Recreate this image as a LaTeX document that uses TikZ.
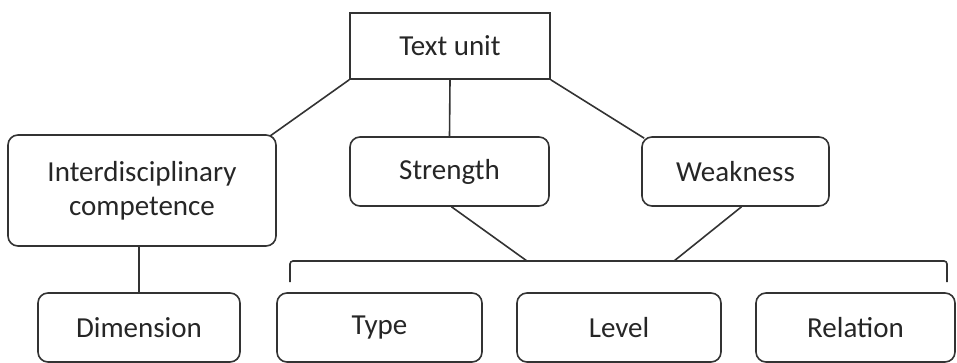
\documentclass[tikz,border=0pt]{standalone}
\usepackage{fontspec}
\setmainfont{Carlito}
\begin{document}
\begin{tikzpicture}[x=1pt,y=-1pt,
  box/.style={draw=black!80, line width=1.6pt, rounded corners=10pt, align=center,
    font=\fontsize{29}{34}\selectfont, text=black!85, inner sep=0pt},
  ln/.style={draw=black!80, line width=1.6pt}]
\useasboundingbox (0,0) rectangle (957,363);
\node[box, rounded corners=0pt, minimum width=200pt, minimum height=66pt] (tu) at (450,46) {Text unit};
\node[box, minimum width=268pt, minimum height=111pt] (ic) at (142,190.5) {Interdisciplinary\\competence};
\node[box, minimum width=199pt, minimum height=69pt] (st) at (449.5,171.5) {Strength};
\node[box, minimum width=187pt, minimum height=69pt] (we) at (735.5,171.5) {Weakness};
\node[box, minimum width=202pt, minimum height=69pt] (dim) at (139,327.5) {Dimension};
\node[box, minimum width=205pt, minimum height=69pt] (ty) at (379.5,327.5) {Type};
\node[box, minimum width=204pt, minimum height=69pt] (lv) at (619,327.5) {Level};
\node[box, minimum width=199pt, minimum height=69pt] (rl) at (855.5,327.5) {Relation};
\coordinate (bl) at (290,282);
\coordinate (br) at (947,282);
\coordinate (bs) at (527,261);
\coordinate (bw) at (674,261);
\draw[ln] (tu.south west) -- ([xshift=-7pt,yshift=-2pt]ic.north east);
\draw[ln] (tu.south) -- (st.north);
\draw[ln] (tu.south east) -- ([xshift=3pt,yshift=-2pt]we.north west);
\draw[ln] (ic.south -| dim.north) -- (dim.north);
\draw[ln, rounded corners=3pt] (bl) -- (bl |- bs) -- (br |- bs) -- (br);
\draw[ln] ([xshift=2pt]st.south) -- (bs);
\draw[ln] ([xshift=6pt]we.south) -- (bw);
\end{tikzpicture}
\end{document}
